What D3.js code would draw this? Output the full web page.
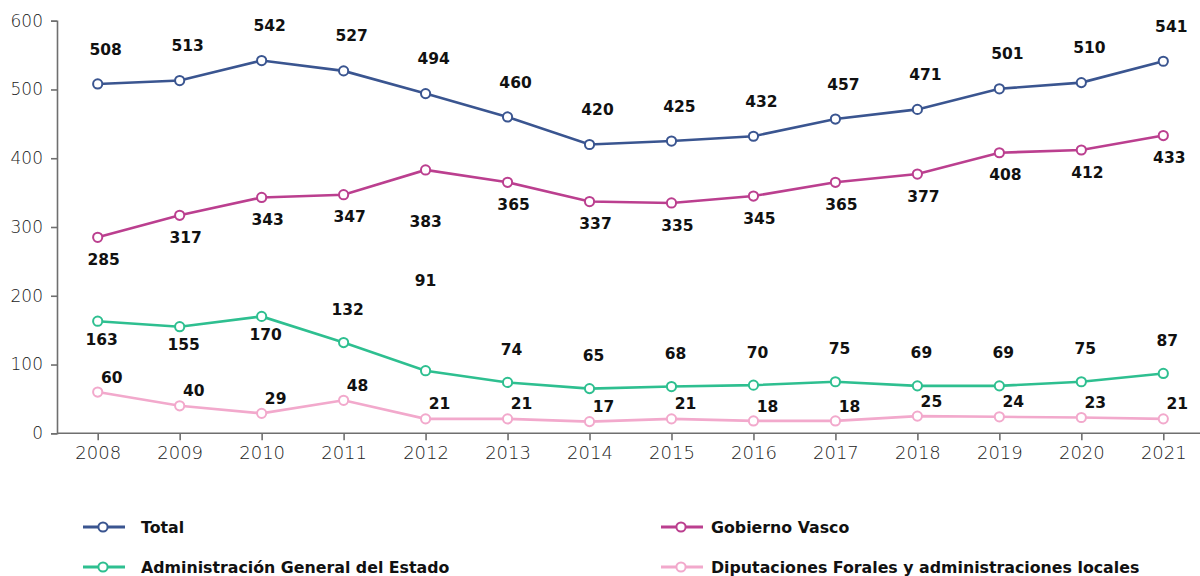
<!DOCTYPE html>
<html>
<head>
<meta charset="utf-8">
<script src="https://cdn.jsdelivr.net/npm/d3@7"></script>
<style>
  body { margin: 0; background: #fff; }
  svg { display: block; }
  .tick-label { font-family: "DejaVu Sans", sans-serif; font-weight: 200; fill: #222; }
  .val { font-family: "DejaVu Sans", sans-serif; font-weight: bold; font-size: 15.5px; fill: #111; }
  .leg { font-family: "DejaVu Sans", sans-serif; font-weight: bold; font-size: 15.8px; fill: #111; }
</style>
</head>
<body>
<svg id="chart" width="1200" height="576"></svg>
<script>
// data
const years = [2008, 2009, 2010, 2011, 2012, 2013, 2014, 2015, 2016, 2017, 2018, 2019, 2020, 2021];
const total = [508, 513, 542, 527, 494, 460, 420, 425, 432, 457, 471, 501, 510, 541];
const gobiernoVasco = [285, 317, 343, 347, 383, 365, 337, 335, 345, 365, 377, 408, 412, 433];
const adminEstado = [163, 155, 170, 132, 91, 74, 65, 68, 70, 75, 69, 69, 75, 87];
const diputaciones = [60, 40, 29, 48, 21, 21, 17, 21, 18, 18, 25, 24, 23, 21];
const yTicks = [0, 100, 200, 300, 400, 500, 600];

const series = [
  { name: 'Total', values: total, color: '#3a5590' },
  { name: 'Gobierno Vasco', values: gobiernoVasco, color: '#bb3f8f' },
  { name: 'Administración General del Estado', values: adminEstado, color: '#2ebf90' },
  { name: 'Diputaciones Forales y administraciones locales', values: diputaciones, color: '#f2a9cc' }
];

// where the value labels go, relative to the point
function labelOffset(si, i) {
  if (si == 0) return [8, -35];
  if (si == 1) return i == 4 ? [0, 51] : [6, 22];
  if (si == 2) {
    if (i == 4) return [0, -90];
    return i < 3 ? [4, 18] : [4, -33];
  }
  return [14, -15];
}

let svg = d3.select('#chart');

let x = d3.scalePoint()
  .domain(years)
  .range([97.7, 1163.3]);

let y = d3.scaleLinear()
  .domain([0, 600])
  .range([433.3, 20.7]);

// axes
let yAxis = svg.append('g')
  .attr('transform', 'translate(57,0)')
  .call(d3.axisLeft(y).tickValues(yTicks).tickSize(6).tickPadding(8));

let xAxis = svg.append('g')
  .attr('transform', `translate(0,${y(0)})`)
  .call(d3.axisBottom(x).tickSize(7).tickPadding(6));

xAxis.select('.domain').attr('d', `M57,0H1200`);

svg.selectAll('.domain, .tick line')
  .attr('stroke', '#6f6f6f')
  .attr('stroke-width', 1.6);

yAxis.selectAll('text').attr('class', 'tick-label').style('font-size', '17px');
xAxis.selectAll('text').attr('class', 'tick-label').style('font-size', '18px');

let line = d3.line()
  .x((d, i) => x(years[i]))
  .y(d => y(d));

// lines, points, labels (draw from bottom series up)
series.slice().reverse().forEach(s => {
  let si = series.indexOf(s);
  let g = svg.append('g');

  g.append('path')
    .datum(s.values)
    .attr('d', line)
    .attr('fill', 'none')
    .attr('stroke', s.color)
    .attr('stroke-width', 2.6);

  g.selectAll('circle')
    .data(s.values)
    .join('circle')
    .attr('cx', (d, i) => x(years[i]))
    .attr('cy', d => y(d))
    .attr('r', 4.6)
    .attr('fill', '#fff')
    .attr('stroke', s.color)
    .attr('stroke-width', 2);

  g.selectAll('.val')
    .data(s.values)
    .join('text')
    .attr('class', 'val')
    .attr('text-anchor', 'middle')
    .attr('dy', '0.36em')
    .attr('x', (d, i) => x(years[i]) + labelOffset(si, i)[0])
    .attr('y', (d, i) => y(d) + labelOffset(si, i)[1])
    .text(d => d);
});

// legend
let legendPos = [[83, 527], [661, 527], [83, 567], [661, 567]];

series.forEach((s, i) => {
  let lg = svg.append('g')
    .attr('transform', `translate(${legendPos[i][0]},${legendPos[i][1]})`);

  lg.append('line')
    .attr('x1', 0).attr('x2', 42)
    .attr('stroke', s.color)
    .attr('stroke-width', 3);

  lg.append('circle')
    .attr('cx', 20).attr('r', 4.6)
    .attr('fill', '#fff')
    .attr('stroke', s.color)
    .attr('stroke-width', 2);

  lg.append('text')
    .attr('class', 'leg')
    .attr('x', i % 2 == 0 ? 58 : 50)
    .attr('dy', '0.36em')
    .text(s.name);
});
</script>
</body>
</html>
